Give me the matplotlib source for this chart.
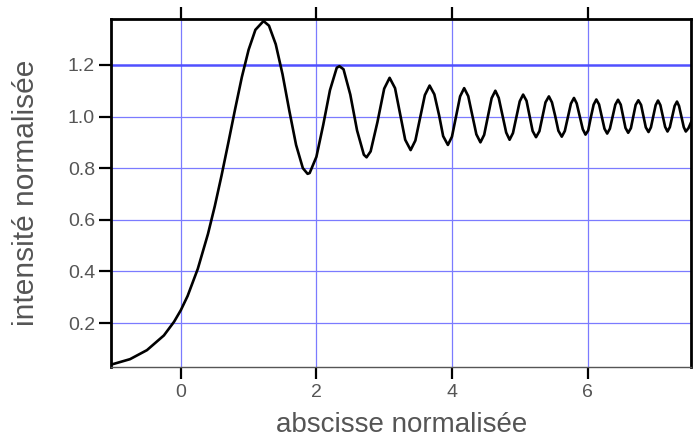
import matplotlib
matplotlib.use('Agg')
import matplotlib.pyplot as plt

# intensity profile (normalised abscissa, normalised intensity)
abscisse = [
    -1.05, -1.0, -0.75, -0.5, -0.25, -0.1, 0.0, 0.1, 0.25, 0.4, 0.5, 0.6, 0.7,
    0.8, 0.9, 1.0, 1.1, 1.22, 1.3, 1.4, 1.5, 1.6, 1.7, 1.8, 1.87, 1.9, 2.0,
    2.1, 2.2, 2.3, 2.34, 2.4, 2.5, 2.6, 2.7, 2.74, 2.8, 2.9, 3.0, 3.08,
    3.16, 3.235, 3.31, 3.39, 3.46, 3.53, 3.60, 3.67, 3.74, 3.81, 3.87, 3.94,
    4.00, 4.06, 4.12, 4.18, 4.24, 4.30, 4.36, 4.42, 4.475, 4.53, 4.585, 4.64,
    4.69, 4.745, 4.80, 4.85, 4.90, 4.95, 5.00, 5.05, 5.10, 5.145, 5.19, 5.24,
    5.29, 5.335, 5.38, 5.43, 5.475, 5.525, 5.57, 5.62, 5.665, 5.71, 5.755, 5.80,
    5.84, 5.885, 5.93, 5.97, 6.01, 6.05, 6.09, 6.13, 6.17, 6.21, 6.25, 6.29,
    6.33, 6.37, 6.41, 6.45, 6.49, 6.525, 6.56, 6.60, 6.64, 6.675, 6.71, 6.75,
    6.79, 6.825, 6.86, 6.90, 6.935, 6.97, 7.005, 7.04, 7.075, 7.11, 7.145, 7.18,
    7.215, 7.25, 7.285, 7.32, 7.35, 7.385, 7.42, 7.45, 7.49, 7.54,
]
intensite = [
    0.038, 0.041, 0.060, 0.095, 0.152, 0.205, 0.250, 0.305, 0.410, 0.545, 0.652, 0.771, 0.898,
    1.028, 1.153, 1.259, 1.336, 1.370, 1.352, 1.280, 1.164, 1.023, 0.890, 0.800, 0.778, 0.781, 0.844,
    0.967, 1.102, 1.189, 1.195, 1.183, 1.085, 0.946, 0.852, 0.842, 0.865, 0.978, 1.108, 1.150,
    1.110, 1.010, 0.910, 0.870, 0.907, 0.995, 1.083, 1.120, 1.086, 1.005, 0.924, 0.890,
    0.922, 1.000, 1.078, 1.110, 1.079, 1.005, 0.931, 0.900, 0.929, 1.000, 1.071, 1.100,
    1.072, 1.005, 0.938, 0.910, 0.936, 0.998, 1.059, 1.085, 1.061, 1.003, 0.944, 0.920,
    0.943, 0.999, 1.055, 1.078, 1.055, 1.000, 0.945, 0.922, 0.944, 0.997, 1.050, 1.072,
    1.051, 1.001, 0.951, 0.930, 0.946, 0.998, 1.046, 1.066, 1.047, 1.000, 0.953, 0.934,
    0.953, 1.000, 1.046, 1.065, 1.046, 1.001, 0.956, 0.937, 0.955, 1.000, 1.045, 1.063,
    1.045, 1.002, 0.958, 0.940, 0.958, 1.000, 1.044, 1.062, 1.044, 1.002, 0.960, 0.942,
    0.959, 1.000, 1.041, 1.058, 1.041, 1.000, 0.959, 0.942, 0.955, 0.985,
]

x_ticks = [0, 2, 4, 6]
y_ticks = [0.2, 0.4, 0.6, 0.8, 1.0, 1.2]
y_ref = 1.2

plt.rcParams['font.family'] = ['Liberation Sans', 'DejaVu Sans']
TEXT = '#555555'
GRID = '#7b7bff'

fig = plt.figure(figsize=(6.94, 4.41), dpi=100)
ax = fig.add_axes([0.160, 0.168, 0.836, 0.789])

for xv in x_ticks:
    ax.axvline(xv, color=GRID, lw=0.9, zorder=1)
for yv in y_ticks:
    if yv == y_ref:
        ax.axhline(yv, color='#5050ff', lw=1.8, zorder=1)
    else:
        ax.axhline(yv, color=GRID, lw=0.9, zorder=1)

ax.plot(abscisse, intensite, color='black', lw=1.9, zorder=3)

ax.set_xlim(-1.03, 7.53)
ax.set_ylim(0.03, 1.378)
ax.set_xticks(x_ticks)
ax.set_yticks(y_ticks)
ax.set_xticklabels([str(v) for v in x_ticks])
ax.set_yticklabels(['%.1f' % v for v in y_ticks])

ax.tick_params(axis='x', direction='out', length=8.5, width=1.6, top=True,
               labelsize=14, labelcolor=TEXT, pad=4)
ax.tick_params(axis='y', direction='out', length=8.5, width=1.6,
               labelsize=14, labelcolor=TEXT, pad=3)

for side in ['left', 'top', 'right']:
    ax.spines[side].set_linewidth(2)
    ax.spines[side].set_color('black')
ax.spines['bottom'].set_linewidth(1)
ax.spines['bottom'].set_color('#555555')

ax.set_xlabel('abscisse normalisée', fontsize=20, color=TEXT, labelpad=8)
ax.set_ylabel('intensité normalisée', fontsize=21.5, color=TEXT, labelpad=20)

fig.savefig('out.png', dpi=100)
